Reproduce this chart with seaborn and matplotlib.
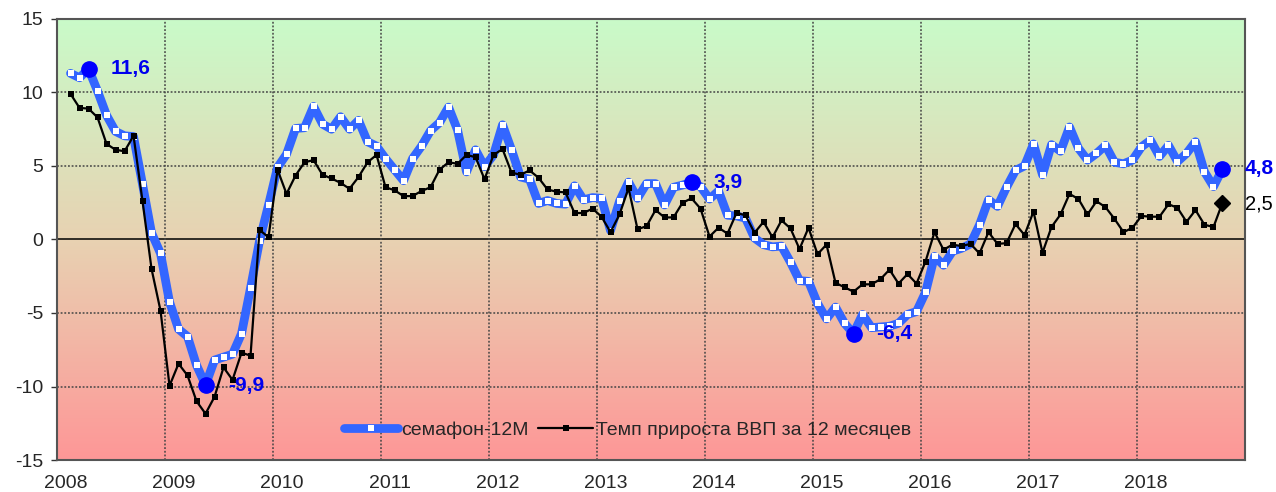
import matplotlib
matplotlib.use("Agg")
import matplotlib.pyplot as plt
from matplotlib.colors import LinearSegmentedColormap
import numpy as np
import pandas as pd
import seaborn as sns

# monthly data, Feb 2008 - Oct 2018
start_month = "2008-02"
semafor = [
    11.3, 11.0, 11.6, 10.1, 8.45, 7.35, 7.05, 7.0, 3.75, 0.45, -0.95,
    -4.25, -6.1, -6.6, -8.55, -9.9, -8.2, -8.0, -7.8, -6.4, -3.3, -0.1, 2.35,
    4.9, 5.8, 7.55, 7.6, 9.05, 7.85, 7.5, 8.35, 7.5, 8.1, 6.65, 6.35,
    5.5, 4.75, 4.0, 5.5, 6.35, 7.4, 7.95, 9.0, 7.45, 4.6, 6.1, 4.95,
    5.75, 7.8, 6.1, 4.25, 4.1, 2.45, 2.65, 2.45, 2.4, 3.65, 2.7, 2.85,
    2.8, 0.6, 2.6, 3.9, 2.8, 3.8, 3.8, 2.35, 3.55, 3.7, 3.9, 3.6,
    2.75, 3.3, 1.65, 1.6, 1.45, 0.1, -0.35, -0.5, -0.45, -1.55, -2.8, -2.85,
    -4.35, -5.4, -4.6, -5.7, -6.4, -5.1, -6.0, -5.95, -5.9, -5.7, -5.1, -4.9,
    -3.6, -1.15, -1.75, -0.8, -0.6, -0.3, 1.0, 2.7, 2.25, 3.55, 4.7, 5.0,
    6.5, 4.4, 6.45, 6.0, 7.65, 6.2, 5.4, 5.85, 6.4, 5.25, 5.15, 5.4,
    6.3, 6.75, 5.65, 6.4, 5.3, 5.85, 6.65, 4.6, 3.6, 4.8,
]
gdp = [
    9.9, 8.95, 8.9, 8.3, 6.5, 6.1, 6.0, 7.05, 2.6, -2.0, -4.85,
    -9.95, -8.45, -9.25, -11.0, -11.85, -10.7, -8.7, -9.55, -7.7, -7.9, 0.65, 0.15,
    4.75, 3.1, 4.35, 5.25, 5.4, 4.4, 4.15, 3.85, 3.45, 4.25, 5.25, 5.75,
    3.55, 3.35, 2.95, 2.95, 3.3, 3.55, 4.75, 5.25, 5.15, 5.75, 5.6, 4.1,
    5.75, 6.15, 4.55, 4.4, 4.7, 4.2, 3.4, 3.25, 3.2, 1.8, 1.8, 2.1,
    1.55, 0.5, 1.7, 3.5, 0.7, 0.9, 2.0, 1.5, 1.5, 2.5, 2.8, 2.1,
    0.2, 0.8, 0.4, 1.8, 1.65, 0.45, 1.2, 0.15, 1.3, 0.75, -0.65, 0.8,
    -1.0, -0.35, -2.95, -3.25, -3.55, -3.05, -3.05, -2.7, -2.05, -3.0, -2.35, -3.0,
    -1.5, 0.5, -0.7, -0.35, -0.45, -0.3, -0.95, 0.5, -0.3, -0.25, 1.05, 0.3,
    1.9, -0.9, 0.85, 1.7, 3.1, 2.75, 1.7, 2.6, 2.2, 1.4, 0.5, 0.8,
    1.6, 1.55, 1.55, 2.4, 2.15, 1.2, 2.0, 1.0, 0.85, 2.5,
]
# highlighted points of the semafor series (month, label)
highlights = [("2008-04", "11,6"), ("2009-05", "-9,9"), ("2013-11", "3,9"),
              ("2015-05", "-6,4"), ("2018-10", "4,8")]
gdp_last_label = "2,5"
years = list(range(2008, 2019))

dates = pd.date_range(start_month, periods=len(semafor), freq="MS")
df = pd.DataFrame({"date": dates, "semafor": semafor, "gdp": gdp})
df["x"] = df["date"].dt.year + (df["date"].dt.month - 0.5) / 12

sns.set_style("white")
plt.rcParams["font.family"] = ["Liberation Sans", "DejaVu Sans"]
plt.rcParams["axes.unicode_minus"] = False

fig = plt.figure(figsize=(12.76, 4.92), dpi=100)
ax = fig.add_axes([0.0447, 0.065, 0.9310, 0.8965])

# background gradient green -> red
cmap = LinearSegmentedColormap.from_list("bg", ["#fe9797", "#e8d2b2", "#c9fbc9"])
grad = np.linspace(0, 1, 256).reshape(-1, 1)
ax.imshow(grad, extent=[2008, 2019, -15, 15], origin="lower", aspect="auto",
          cmap=cmap, zorder=0)

sns.lineplot(data=df, x="x", y="semafor", ax=ax, color="#3366ff", linewidth=6.3,
             marker="s", markersize=4.2, markerfacecolor="white",
             markeredgewidth=0, label="семафон-12М", zorder=3)
sns.lineplot(data=df.iloc[:-1], x="x", y="gdp", ax=ax, color="black", linewidth=1.6,
             marker="s", markersize=4.5, markeredgewidth=0,
             label="Темп прироста ВВП за 12 месяцев", zorder=4)
# last GDP point: diamond
last = df.iloc[-2:]
ax.plot(last["x"], last["gdp"], color="black", linewidth=1.6, zorder=4)
ax.plot(last["x"].iloc[-1], last["gdp"].iloc[-1], marker="D", color="black",
        markersize=8, zorder=5, clip_on=False)
ax.annotate(gdp_last_label, (last["x"].iloc[-1], last["gdp"].iloc[-1]),
            xytext=(16, -1), textcoords="offset points", va="center", ha="left",
            fontsize=14.5, color="black", annotation_clip=False)

for month, text in highlights:
    row = df[df["date"] == pd.Timestamp(month)].iloc[0]
    ax.plot(row["x"], row["semafor"], "o", color="#0000ff", markersize=11,
            zorder=6, clip_on=False)
    ax.annotate(text, (row["x"], row["semafor"]), xytext=(16, 0),
                textcoords="offset points", va="center", ha="left",
                fontsize=15, fontweight="bold", color="#0000ee",
                annotation_clip=False, zorder=7)

ax.set_xlim(2008, 2019)
ax.set_ylim(-15, 15)
# year labels sit just right of the year boundary
ax.set_xticks([y + 1 / 12 for y in years])
ax.set_xticklabels([str(y) for y in years])
ax.set_yticks(range(-15, 16, 5))
ax.set_xlabel("")
ax.set_ylabel("")

for yv in (-10, -5, 5, 10):
    ax.axhline(yv, color="#444444", linestyle=(0, (1.2, 1.2)), linewidth=1.1, zorder=1)
ax.axhline(0, color="black", linewidth=1.1, zorder=1)
for xv in range(2009, 2019):
    ax.axvline(xv, color="#444444", linestyle=(0, (1.2, 1.2)), linewidth=1.1, zorder=1)

for side in ax.spines.values():
    side.set_color("#555555")
    side.set_linewidth(1.5)
ax.tick_params(axis="y", length=4, width=1, color="#333333", labelsize=14, pad=6,
               left=True)
ax.tick_params(axis="x", length=0, labelsize=14, pad=11)

ax.legend(loc="center", bbox_to_anchor=(0.48, 0.067), ncol=2, frameon=False,
          fontsize=14, handlelength=2.8, handletextpad=0.15, columnspacing=0.5,
          numpoints=1)

fig.savefig("out.png", dpi=100)
